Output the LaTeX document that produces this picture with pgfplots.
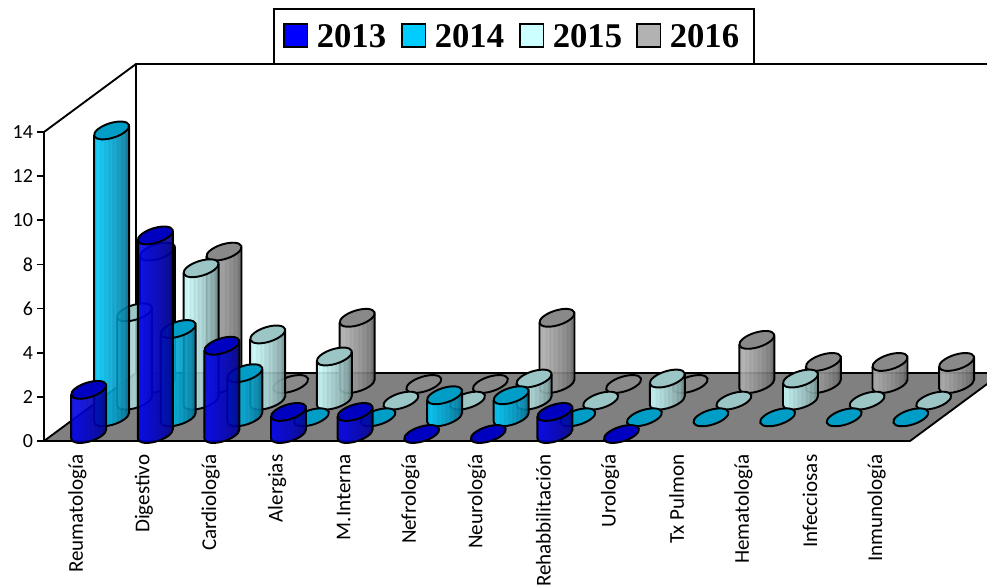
\documentclass[border=0pt]{standalone}
\usepackage{fontspec}
\setmainfont{Carlito}
\newfontfamily\legendfont{Liberation Serif}
\usepackage{pgfplots}
\usepackage{pgfplotstable}
\pgfplotsset{compat=1.18}

% Admissions per service and year; nan = no record for that year
\pgfplotstableread{
svc  a13 a14 a15 a16
0    2   13  4   6
1    9   4   6   6
2    4   2   3   0
3    1   0   2   3
4    1   0   0   0
5    0   1   0   0
6    0   1   1   3
7    1   0   0   0
8    0   0   1   0
9    nan 0   0   2
10   nan 0   1   1
11   nan 0   0   1
12   nan 0   0   1
}\services

\definecolor{lA}{HTML}{0000F0}\definecolor{dA}{HTML}{000078}\definecolor{tA}{HTML}{0000C0}
\definecolor{lB}{HTML}{00CCFF}\definecolor{dB}{HTML}{005F7F}\definecolor{tB}{HTML}{009EC6}
\definecolor{lC}{HTML}{CCFFFF}\definecolor{dC}{HTML}{668080}\definecolor{tC}{HTML}{9CC6C6}
\definecolor{lD}{HTML}{B2B2B2}\definecolor{dD}{HTML}{595959}\definecolor{tD}{HTML}{898989}
\definecolor{floorgray}{HTML}{808080}

% Ribbed left-to-right cylinder shading
\newcommand\cylshading[3]{\pgfdeclarehorizontalshading{#1}{100bp}{%
  color(0bp)=(#2); color(25bp)=(#2); color(28bp)=(#2!88!#3); color(31bp)=(#2!96!#3);
  color(34bp)=(#2!80!#3); color(37bp)=(#2!88!#3); color(40bp)=(#2!70!#3);
  color(43bp)=(#2!80!#3); color(46bp)=(#2!62!#3); color(49bp)=(#2!70!#3);
  color(52bp)=(#2!52!#3); color(55bp)=(#2!62!#3); color(58bp)=(#2!42!#3);
  color(61bp)=(#2!50!#3); color(64bp)=(#2!30!#3); color(67bp)=(#2!38!#3);
  color(70bp)=(#2!18!#3); color(75bp)=(#3); color(100bp)=(#3)}}
\cylshading{cylA}{lA}{dA}
\cylshading{cylB}{lB}{dB}
\cylshading{cylC}{lC}{dC}
\cylshading{cylD}{lD}{dD}

\pgfdeclareplotmark{nomark}{}
\def\pxy{16.55}   % pt per unit of y
\def\axisA{\pgfqpoint{13.02pt}{4.10pt}}   % long axis of the tilted ellipse
\def\axisB{\pgfqpoint{-1.67pt}{5.29pt}}   % short axis of the tilted ellipse
\def\cylline{1.45pt}

% Cylinder side: left edge, front of the base, right edge
\newcommand\cylside{%
  \pgfpathmoveto{\pgfqpoint{-13.12pt}{-3.40pt}}%
  \pgfpathlineto{\pgfpointadd{\pgfqpoint{-13.12pt}{-3.40pt}}{\pgfqpoint{0pt}{-\cylh}}}%
  \pgfpatharcaxes{172.7}{352.7}{\axisA}{\axisB}%
  \pgfpathlineto{\pgfqpoint{13.12pt}{3.40pt}}}

% Cylinder hanging from the plotted point down to the floor of its row
\newcommand\drawcyl[2]{%
  \pgfmathsetlengthmacro\cylh{\cylval*\pxy}%
  \ifdim\cylh>0.5pt
    \begin{pgfscope}
      \pgfsetfillopacity{0.9}%
      \cylside
      \pgfpatharcaxes{352.7}{172.7}{\axisA}{\axisB}%
      \pgfpathclose
      \pgfshadepath{#1}{0}%
      \pgfusepath{discard}%
    \end{pgfscope}
    \begin{pgfscope}
      \pgfsetlinewidth{\cylline}\pgfsetroundjoin\pgfsetstrokecolor{black}%
      \cylside
      \pgfusepath{stroke}%
    \end{pgfscope}
  \fi
  \begin{pgfscope}
    \pgfsetlinewidth{\cylline}\pgfsetstrokecolor{black}\pgfsetfillcolor{#2}%
    \pgfpathellipse{\pgfpointorigin}{\axisA}{\axisB}%
    \pgfusepath{fill,stroke}%
  \end{pgfscope}
}
\pgfplotsset{
  cylinders/.style n args={3}{
    scatter, only marks, mark=nomark,
    visualization depends on={\thisrow{#1} \as \cylval},
    scatter/@pre marker code/.code={\drawcyl{#2}{#3}},
    scatter/@post marker code/.code={},
  },
}

\begin{document}
\begin{tikzpicture}
\clip[use as bounding box] (0,0) rectangle (740.25pt,-439.5pt);

% Chart walls and floor, coordinates in image pixels
\begin{scope}[x=0.75pt,y=-0.75pt,line width=1.4pt]
  \draw[fill=floorgray, line join=round] (44,441) -- (910,441) -- (1002,373) -- (136,373) -- cycle;
  \draw[line join=round] (44,441) -- (44,132) -- (136,64) -- (1000,64);
  \draw (136,64) -- (136,373);
\end{scope}

\begin{axis}[
  at={(33pt,-330.75pt)}, anchor=origin,
  x=49.95pt, y=\pxy pt,
  xmin=0, xmax=13, ymin=0, ymax=14,
  clip=false,
  axis x line=bottom, axis y line=left,
  axis line style={-, line width=1.4pt},
  every tick/.style={black, line width=1.3pt},
  tick align=outside,
  ytick={0,2,...,14},
  major tick length=5.25pt,
  xtick={0.5,1.5,...,12.5},
  xticklabels={Reumatología,Digestivo,Cardiología,Alergias,M.Interna,Nefrología,Neurología,Rehabbilitación,Urología,Tx Pulmon,Hematología,Infecciosas,Inmunología},
  x tick style={draw=none},
  extra x ticks={0,1,...,13},
  extra x tick labels={},
  extra x tick style={major tick length=8.25pt, tick style={black, line width=1.3pt}},
  xticklabel style={rotate=90, anchor=east, font=\fontsize{15.8}{17}\selectfont, xshift=-1.5pt},
  yticklabel style={font=\fontsize{15}{17}\selectfont, xshift=0.5pt},
  /pgf/number format/assume math mode=true,
]
  % Rows drawn back to front; each row sits further along the floor
  \addplot[cylinders={a16}{cylD}{tD}] table[x expr=\coordindex+0.5+1.2027, y expr=\thisrow{a16}+2.583] {\services};
  \addplot[cylinders={a15}{cylC}{tC}] table[x expr=\coordindex+0.5+0.8589, y expr=\thisrow{a15}+1.83] {\services};
  \addplot[cylinders={a14}{cylB}{tB}] table[x expr=\coordindex+0.5+0.515, y expr=\thisrow{a14}+1.074] {\services};
  \addplot[cylinders={a13}{cylA}{tA}] table[x expr=\coordindex+0.5+0.1712, y expr=\thisrow{a13}+0.317] {\services};
\end{axis}

% Year key
\begin{scope}[x=0.75pt,y=-0.75pt]
  \draw[line width=1.5pt, fill=white] (274,9) rectangle (754,64);
  \foreach \sx/\col/\yr in {284/0000FF/2013, 402/00CCFF/2014, 520/CCFFFF/2015, 637/B2B2B2/2016}{
    \definecolor{swatch}{HTML}{\col}
    \draw[line width=1.3pt, fill=swatch] (\sx,24) rectangle ++(23.5,23);
    \node[anchor=west, inner sep=0pt, font=\legendfont\bfseries\fontsize{26}{28}\selectfont]
      at (\sx+32.5,36) {\yr};
  }
\end{scope}
\end{tikzpicture}
\end{document}
